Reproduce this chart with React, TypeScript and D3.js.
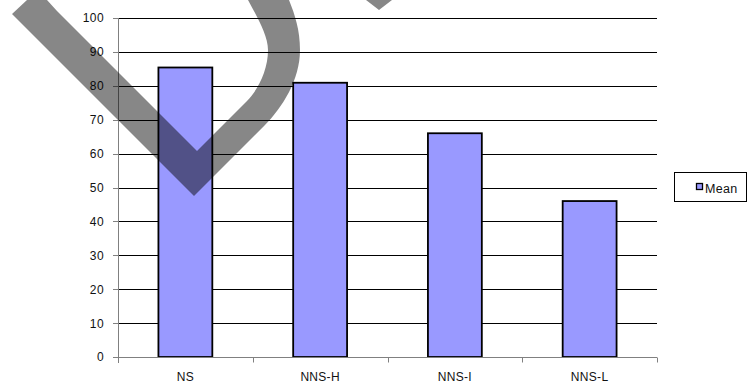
import React from "react";
import * as d3 from "d3";

const categories = ["NS", "NNS-H", "NNS-I", "NNS-L"];
const meanValues = [85.4, 80.9, 66, 46];
const yTicks = [0, 10, 20, 30, 40, 50, 60, 70, 80, 90, 100];
const seriesName = "Mean";

const W = 747;
const H = 383;
const plot = { left: 118, right: 657, top: 18, bottom: 357 };
const FONT = "'Liberation Sans', Arial, sans-serif";

export default function App() {
  const x = d3
    .scaleBand<string>()
    .domain(categories)
    .range([plot.left, plot.right])
    .paddingInner(0.6)
    .paddingOuter(0.3);
  const y = d3.scaleLinear().domain([0, 100]).range([plot.bottom, plot.top]);
  const step = x.step();
  const crisp = (v: number) => Math.round(v) + 0.5;

  // stylised check-mark logo laid over the chart
  const logo = d3.path();
  logo.moveTo(27, 0);
  logo.lineTo(12, 14);
  logo.lineTo(194, 196);
  logo.lineTo(265, 125);
  logo.bezierCurveTo(282, 108, 300, 80, 300, 50);
  logo.bezierCurveTo(300, 30, 295, 15, 289, 0);
  logo.lineTo(248, 0);
  logo.bezierCurveTo(256, 15, 268, 35, 268, 50);
  logo.bezierCurveTo(268, 70, 258, 90, 247, 101);
  logo.lineTo(197, 151);
  logo.lineTo(57, 11);
  logo.lineTo(47, 0);
  logo.closePath();
  logo.moveTo(366, 0);
  logo.lineTo(379, 10);
  logo.lineTo(392, 0);
  logo.closePath();

  const boundaries = d3.range(categories.length + 1).map((i) => plot.left + i * step);

  return (
    <svg
      width={W}
      height={H}
      style={{ position: "absolute", left: 0, top: 0, background: "#fff" }}
      fontFamily={FONT}
    >
      <rect x={0} y={0} width={W} height={H} fill="#fff" />
      {/* gridlines */}
      {yTicks.map((t) => (
        <line
          key={"g" + t}
          x1={plot.left}
          x2={plot.right}
          y1={crisp(y(t))}
          y2={crisp(y(t))}
          stroke="#000"
          strokeWidth={1}
        />
      ))}
      {/* y axis */}
      <line
        x1={crisp(plot.left)}
        x2={crisp(plot.left)}
        y1={plot.top}
        y2={plot.bottom + 6}
        stroke="#808080"
      />
      {yTicks.map((t) => (
        <g key={"yt" + t}>
          <line
            x1={plot.left - 5}
            x2={plot.left}
            y1={crisp(y(t))}
            y2={crisp(y(t))}
            stroke="#808080"
          />
          <text
            x={104}
            y={y(t) + 4.4}
            textAnchor="end"
            fontSize={12}
            letterSpacing={0.4}
            fill="#111"
          >
            {t}
          </text>
        </g>
      ))}
      {/* bars */}
      {categories.map((c, i) => (
        <rect
          key={c}
          x={x(c)!}
          y={y(meanValues[i])}
          width={x.bandwidth()}
          height={y(0) - y(meanValues[i])}
          fill="#9999ff"
          stroke="#000"
          strokeWidth={1.8}
        />
      ))}
      {/* x axis */}
      <line
        x1={plot.left}
        x2={plot.right}
        y1={crisp(y(0))}
        y2={crisp(y(0))}
        stroke="#808080"
      />
      {boundaries.map((b, i) => (
        <line
          key={"xt" + i}
          x1={crisp(b)}
          x2={crisp(b)}
          y1={crisp(y(0))}
          y2={crisp(y(0)) + 5}
          stroke="#808080"
        />
      ))}
      {categories.map((c) => (
        <text
          key={"xl" + c}
          x={x(c)! + x.bandwidth() / 2}
          y={381}
          textAnchor="middle"
          fontSize={12}
          letterSpacing={0.3}
          fill="#111"
        >
          {c}
        </text>
      ))}
      {/* legend */}
      <rect x={674.5} y={172.5} width={72} height={29} fill="#fff" stroke="#000" />
      <rect x={696.5} y={183.5} width={6} height={6} fill="#9999ff" stroke="#000" strokeWidth={1.3} />
      <text x={705} y={192.5} fontSize={12.5} letterSpacing={0.3} fill="#111">
        {seriesName}
      </text>
      {/* logo overlay */}
      <path d={logo.toString()} fill="#000" fillOpacity={0.47} />
    </svg>
  );
}
